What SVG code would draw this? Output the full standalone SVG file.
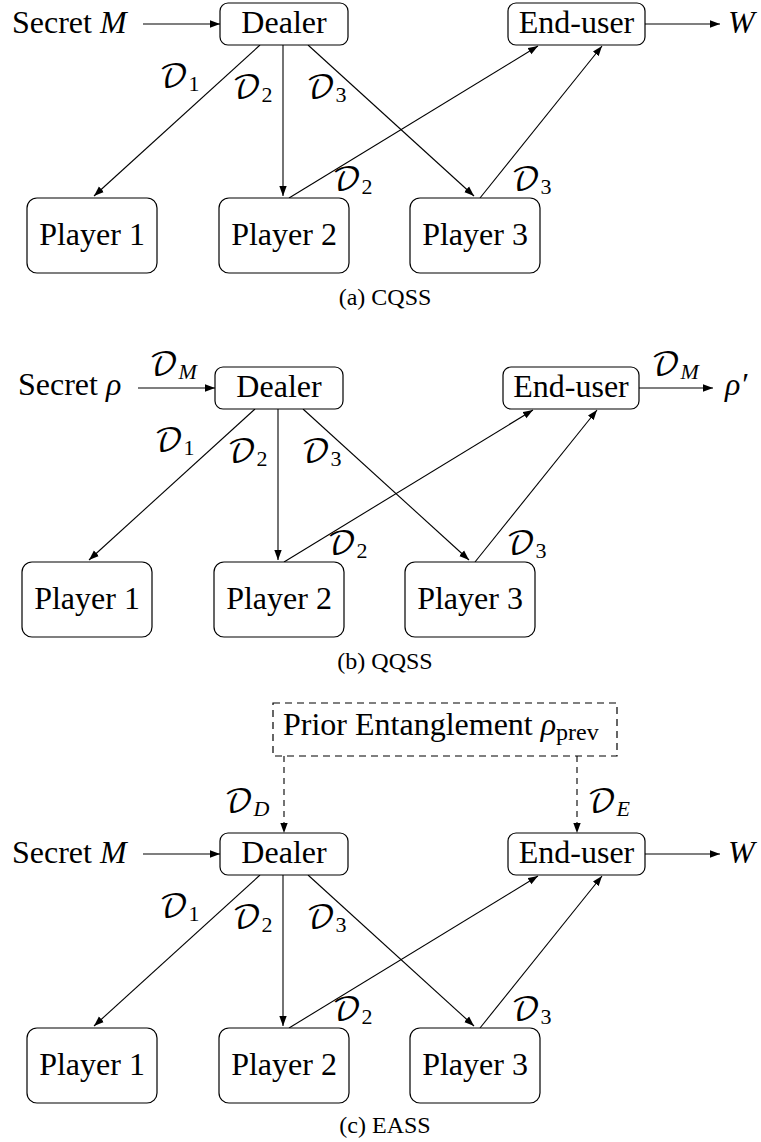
<svg xmlns="http://www.w3.org/2000/svg" width="761" height="1142" viewBox="0 0 761 1142" font-family="'Liberation Serif', 'DejaVu Serif', serif">
<style>
text, tspan{font-family:"Liberation Serif","DejaVu Serif",serif;fill:#000}
.box{fill:#fff;stroke:#000;stroke-width:1.2}
.pbox{fill:none;stroke:#000;stroke-width:1.2;stroke-dasharray:7 5}
.edge{fill:none;stroke:#000;stroke-width:1.1;marker-end:url(#ah)}
.dash{stroke-dasharray:6 5}
.node{font-size:32px;text-anchor:middle}
.lbl{font-size:32px}
.cap{font-size:24px;text-anchor:middle}
.it{font-style:italic}
tspan.cal{font-family:"DejaVu Math TeX Gyre","DejaVu Serif",serif;font-size:32px;font-style:normal}
.sub{font-size:22px}
.psub{font-size:24px}
</style>
<defs>
<marker id="ah" markerUnits="userSpaceOnUse" markerWidth="11" markerHeight="8" refX="10" refY="4" orient="auto">
<path d="M0,0.3 L10,4 L0,7.7 Z" fill="#000"/>
</marker>
</defs>

<!-- Panel (a) -->
<g id="panel-a">
<g id="a-connectors">
<path class="edge" d="M143,24 L220,24"/>
<path class="edge" d="M645,24 L720,24"/>
<path class="edge" d="M260,45 L94,196"/>
<path class="edge" d="M283,45 L283,196"/>
<path class="edge" d="M308,45 L474,196"/>
<path class="edge" d="M289,198 L538,46"/>
<path class="edge" d="M480,198 L602,46"/>
<text x="159" y="87"><tspan class="cal">𝒟</tspan><tspan class="sub" dy="4">1</tspan></text>
<text x="232" y="98"><tspan class="cal">𝒟</tspan><tspan class="sub" dy="4">2</tspan></text>
<text x="306" y="98"><tspan class="cal">𝒟</tspan><tspan class="sub" dy="4">3</tspan></text>
<text x="332" y="190"><tspan class="cal">𝒟</tspan><tspan class="sub" dy="4">2</tspan></text>
<text x="511" y="190"><tspan class="cal">𝒟</tspan><tspan class="sub" dy="4">3</tspan></text>
</g>
<g id="a-secret"><text class="lbl" x="12" y="33">Secret <tspan class="it">M</tspan></text></g>
<g id="a-dealer"><rect class="box" x="220" y="3" width="128" height="42" rx="8"/><text class="node" x="284" y="33">Dealer</text></g>
<g id="a-enduser"><rect class="box" x="508" y="3" width="137" height="42" rx="8"/><text class="node" x="576.5" y="33">End-user</text></g>
<g id="a-output"><text class="lbl it" x="728" y="33">W</text></g>
<g id="a-player1"><rect class="box" x="27" y="198" width="130" height="75" rx="10"/><text class="node" x="92" y="245">Player 1</text></g>
<g id="a-player2"><rect class="box" x="219" y="198" width="130" height="75" rx="10"/><text class="node" x="284" y="245">Player 2</text></g>
<g id="a-player3"><rect class="box" x="410" y="198" width="130" height="75" rx="10"/><text class="node" x="475" y="245">Player 3</text></g>
</g>
<text class="cap" x="385" y="305">(a) CQSS</text>

<!-- Panel (b) -->
<g id="panel-b" transform="translate(-5,364)">
<g id="b-connectors">
<path class="edge" d="M143,24 L220,24"/>
<path class="edge" d="M644,24 L718,24"/>
<path class="edge" d="M260,45 L94,196"/>
<path class="edge" d="M283,45 L283,196"/>
<path class="edge" d="M308,45 L474,196"/>
<path class="edge" d="M289,198 L538,46"/>
<path class="edge" d="M480,198 L602,46"/>
<text x="154" y="11"><tspan class="cal">𝒟</tspan><tspan class="sub it" dy="4">M</tspan></text>
<text x="656" y="11"><tspan class="cal">𝒟</tspan><tspan class="sub it" dy="4">M</tspan></text>
<text x="159" y="87"><tspan class="cal">𝒟</tspan><tspan class="sub" dy="4">1</tspan></text>
<text x="232" y="98"><tspan class="cal">𝒟</tspan><tspan class="sub" dy="4">2</tspan></text>
<text x="306" y="98"><tspan class="cal">𝒟</tspan><tspan class="sub" dy="4">3</tspan></text>
<text x="332" y="190"><tspan class="cal">𝒟</tspan><tspan class="sub" dy="4">2</tspan></text>
<text x="511" y="190"><tspan class="cal">𝒟</tspan><tspan class="sub" dy="4">3</tspan></text>
</g>
<g id="b-secret"><text class="lbl" x="23" y="31">Secret <tspan class="it">ρ</tspan></text></g>
<g id="b-dealer"><rect class="box" x="220" y="3" width="128" height="42" rx="8"/><text class="node" x="284" y="33">Dealer</text></g>
<g id="b-enduser"><rect class="box" x="508" y="3" width="136" height="42" rx="8"/><text class="node" x="576" y="33">End-user</text></g>
<g id="b-output"><text class="lbl it" x="730" y="31">ρ′</text></g>
<g id="b-player1"><rect class="box" x="27" y="198" width="130" height="75" rx="10"/><text class="node" x="92" y="245">Player 1</text></g>
<g id="b-player2"><rect class="box" x="219" y="198" width="130" height="75" rx="10"/><text class="node" x="284" y="245">Player 2</text></g>
<g id="b-player3"><rect class="box" x="410" y="198" width="130" height="75" rx="10"/><text class="node" x="475" y="245">Player 3</text></g>
</g>
<text class="cap" x="385" y="669">(b) QQSS</text>

<!-- Panel (c) -->
<g id="panel-c" transform="translate(0,830)">
<g id="c-connectors">
<path class="edge" d="M143,24 L220,24"/>
<path class="edge" d="M645,24 L720,24"/>
<path class="edge dash" d="M284,-74 L284,3"/>
<path class="edge dash" d="M577,-74 L577,3"/>
<path class="edge" d="M260,45 L94,196"/>
<path class="edge" d="M283,45 L283,196"/>
<path class="edge" d="M308,45 L474,196"/>
<path class="edge" d="M289,198 L538,46"/>
<path class="edge" d="M480,198 L602,46"/>
<text x="224" y="-18"><tspan class="cal">𝒟</tspan><tspan class="sub it" dy="4">D</tspan></text>
<text x="587" y="-18"><tspan class="cal">𝒟</tspan><tspan class="sub it" dy="4">E</tspan></text>
<text x="159" y="87"><tspan class="cal">𝒟</tspan><tspan class="sub" dy="4">1</tspan></text>
<text x="232" y="98"><tspan class="cal">𝒟</tspan><tspan class="sub" dy="4">2</tspan></text>
<text x="306" y="98"><tspan class="cal">𝒟</tspan><tspan class="sub" dy="4">3</tspan></text>
<text x="332" y="190"><tspan class="cal">𝒟</tspan><tspan class="sub" dy="4">2</tspan></text>
<text x="511" y="190"><tspan class="cal">𝒟</tspan><tspan class="sub" dy="4">3</tspan></text>
</g>
<g id="c-prior"><rect class="pbox" x="273" y="-127" width="344" height="53"/><text class="lbl" x="283" y="-95">Prior Entanglement <tspan class="it">ρ</tspan><tspan class="psub" dy="5">prev</tspan></text></g>
<g id="c-secret"><text class="lbl" x="12" y="33">Secret <tspan class="it">M</tspan></text></g>
<g id="c-dealer"><rect class="box" x="220" y="3" width="128" height="42" rx="8"/><text class="node" x="284" y="33">Dealer</text></g>
<g id="c-enduser"><rect class="box" x="508" y="3" width="137" height="42" rx="8"/><text class="node" x="576.5" y="33">End-user</text></g>
<g id="c-output"><text class="lbl it" x="728" y="33">W</text></g>
<g id="c-player1"><rect class="box" x="27" y="198" width="130" height="75" rx="10"/><text class="node" x="92" y="245">Player 1</text></g>
<g id="c-player2"><rect class="box" x="219" y="198" width="130" height="75" rx="10"/><text class="node" x="284" y="245">Player 2</text></g>
<g id="c-player3"><rect class="box" x="410" y="198" width="130" height="75" rx="10"/><text class="node" x="475" y="245">Player 3</text></g>
</g>
<text class="cap" x="385" y="1133">(c) EASS</text>
</svg>
